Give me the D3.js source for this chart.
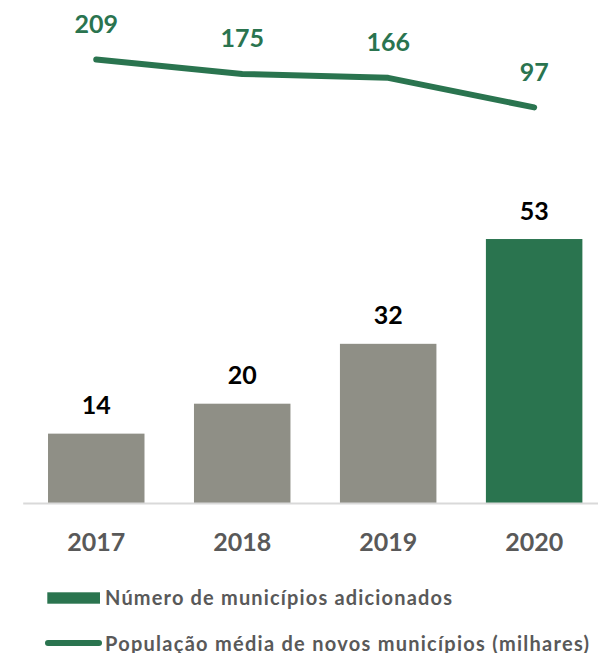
<!DOCTYPE html>
<html>
<head>
<meta charset="utf-8">
<script src="https://cdn.jsdelivr.net/npm/d3@7"></script>
<style>
  html, body { margin: 0; padding: 0; background: #fff; }
  svg { display: block; font-family: Lato, "Open Sans", "DejaVu Sans", sans-serif; }
</style>
</head>
<body>
<svg id="chart" width="598" height="653"></svg>
<script>
const years = ["2017", "2018", "2019", "2020"];
const municipiosAdicionados = [14, 20, 32, 53];
const populacaoMedia = [209, 175, 166, 97];
const legendLabels = ["Número de municípios adicionados", "População média de novos municípios (milhares)"];

const green = "#2a744f";
const gray = "#8f8f86";
const svg = d3.select("#chart");

const x = d3.scaleBand().domain(years).range([23.2, 607.2]).paddingInner(0.339).paddingOuter(0.17);
const yBar = d3.scaleLinear().domain([0, 60]).range([503.5, 204.1]);
const yLine = d3.scaleLinear().domain([0, 250]).range([149, 41.85]);

// bars
svg.append("g").selectAll("rect").data(years).join("rect")
  .attr("x", d => x(d))
  .attr("width", x.bandwidth())
  .attr("y", (d, i) => yBar(municipiosAdicionados[i]))
  .attr("height", (d, i) => yBar(0) - yBar(municipiosAdicionados[i]))
  .attr("fill", (d, i) => i === years.length - 1 ? green : gray);

// baseline axis
const axis = d3.axisBottom(x).tickSize(0).tickPadding(0);
const gAxis = svg.append("g").attr("transform", `translate(0,${yBar(0)})`).call(axis);
gAxis.select(".domain").attr("d", "M23.2,0H598").attr("stroke", "#d9d9d9").attr("stroke-width", 2);
gAxis.selectAll(".tick text")
  .attr("y", 47.2).attr("dy", null)
  .attr("fill", "#595959")
  .style("font-size", "25px").style("font-weight", "bold").style("font-family", "Lato, sans-serif");

// bar labels
svg.append("g").selectAll("text").data(years).join("text")
  .attr("x", d => x(d) + x.bandwidth() / 2)
  .attr("y", (d, i) => yBar(municipiosAdicionados[i]) - 19.5)
  .attr("text-anchor", "middle")
  .attr("fill", "#000")
  .style("font-size", "25px").style("font-weight", "bold")
  .text((d, i) => municipiosAdicionados[i]);

// line
const line = d3.line().x(d => x(d.year) + x.bandwidth() / 2).y(d => yLine(d.v));
const lineData = years.map((y, i) => ({ year: y, v: populacaoMedia[i] }));
svg.append("path").datum(lineData)
  .attr("d", line)
  .attr("fill", "none").attr("stroke", green).attr("stroke-width", 6)
  .attr("stroke-linecap", "round").attr("stroke-linejoin", "round");

svg.append("g").selectAll("text").data(lineData).join("text")
  .attr("x", d => x(d.year) + x.bandwidth() / 2)
  .attr("y", d => yLine(d.v) - 26.5)
  .attr("text-anchor", "middle")
  .attr("fill", green)
  .style("font-size", "25px").style("font-weight", "bold")
  .text(d => d.v);

// legend
const lg = svg.append("g");
lg.append("rect").attr("x", 47.3).attr("y", 592.3).attr("width", 52.7).attr("height", 11.4).attr("fill", green);
lg.append("text").attr("x", 105).attr("y", 605)
  .attr("fill", "#595959").style("font-size", "20px").style("font-weight", "bold")
  .attr("textLength", 347).attr("lengthAdjust", "spacing")
  .text(legendLabels[0]);
lg.append("line").attr("x1", 48).attr("x2", 99).attr("y1", 643).attr("y2", 643)
  .attr("stroke", green).attr("stroke-width", 6).attr("stroke-linecap", "round");
lg.append("text").attr("x", 105).attr("y", 650.5)
  .attr("fill", "#595959").style("font-size", "20px").style("font-weight", "bold")
  .attr("textLength", 484).attr("lengthAdjust", "spacing")
  .text(legendLabels[1]);
</script>
</body>
</html>
